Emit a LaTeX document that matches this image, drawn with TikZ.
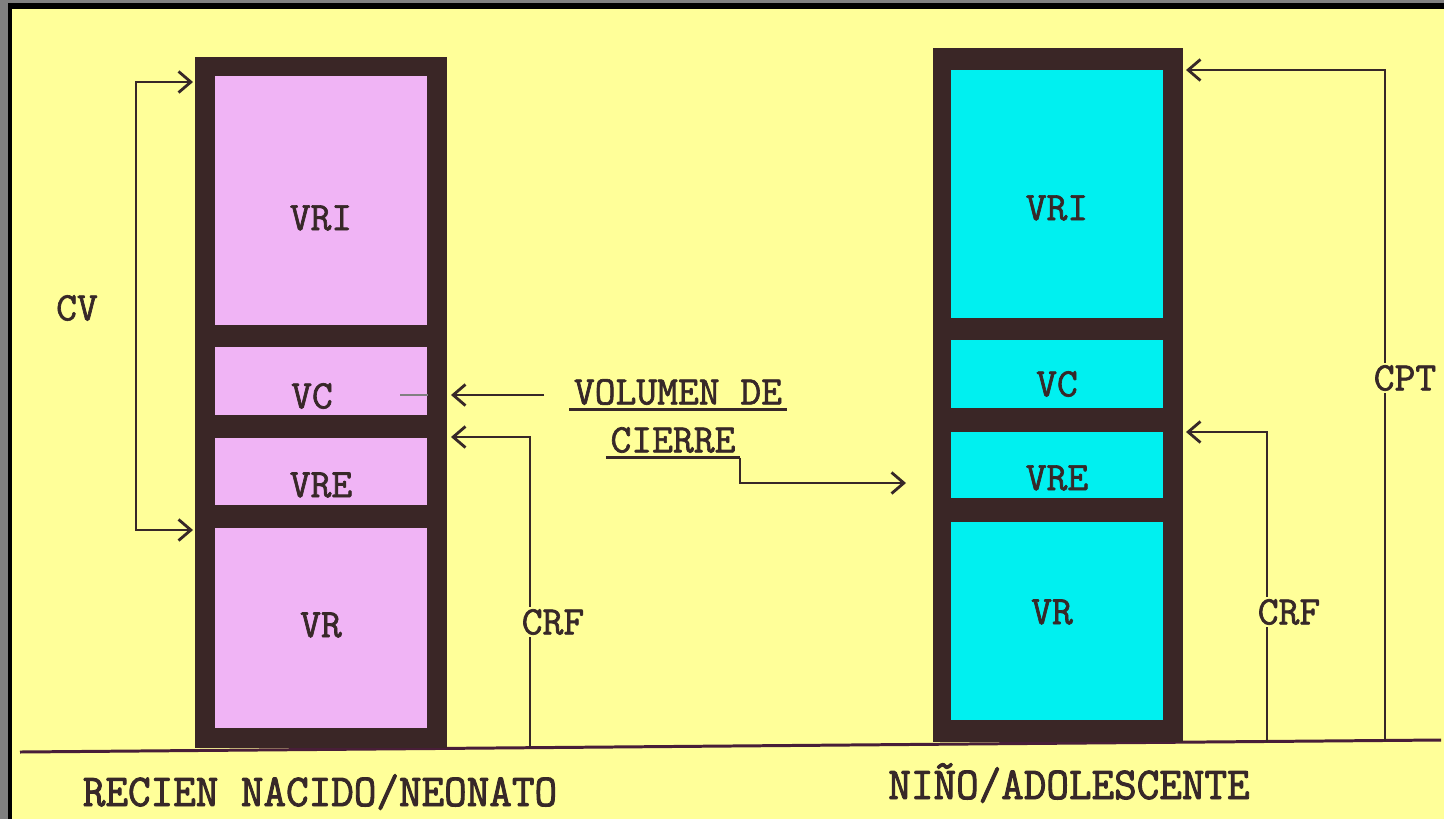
\documentclass[tikz,border=0pt]{standalone}
\usepackage{fontspec}
\newfontfamily\maquina{Latin Modern Mono}[FakeBold=1.6]
\newfontfamily\maquinaalta{Latin Modern Mono}[FakeBold=2,FakeStretch=0.96]
\usetikzlibrary{arrows.meta,positioning}
\definecolor{fondo}{RGB}{255,255,153}
\definecolor{marco}{RGB}{58,38,38}
\definecolor{rosa}{RGB}{240,180,245}
\definecolor{celeste}{RGB}{0,240,240}
\definecolor{gris}{RGB}{128,128,128}
\definecolor{tinta}{RGB}{55,40,40}

\begin{document}
\begin{tikzpicture}[x=0.02cm,y=-0.02cm,
    font=\maquina\fontsize{23}{27}\selectfont,text=tinta,
    marcobox/.style={fill=marco,inner sep=0pt},
    linea/.style={draw=tinta,line width=1.1pt},
    flecha/.style={linea,-{Straight Barb[length=7pt,width=12pt,line width=1.6pt]}},
    etiq/.style={fill=fondo,inner sep=1.5pt},
    rotulo/.style={anchor=base,inner sep=0pt,font=\maquinaalta\fontsize{26}{30}\selectfont}]
  \useasboundingbox (0,0) rectangle (1444,819);
  % fondo con borde gris y negro arriba/izquierda
  \fill[gris] (0,0) rectangle (1444,819);
  \fill[black] (8,3) rectangle (1444,819);
  \fill[fondo] (12,9) rectangle (1444,819);
  % linea del suelo (bajo los marcos)
  \coordinate (suelo1) at (20,752);
  \coordinate (suelo2) at (1441,740);
  \draw[draw=marco!80!violet,line width=1.7pt] (suelo1) -- (suelo2);
  % recien nacido
  \node[marcobox,minimum width=5.04cm,minimum height=13.82cm] (marcoI) at (321,402.5) {};
  \foreach \nm/\ya/\yb/\txt/\xt/\yt in {vri/76/325/VRI/321/218,vc/347/415/VC/312/396,
      vre/438/505/VRE/321/485,vr/528/728/VR/321/625}{
    \fill[rosa] (215,\ya) rectangle (427,\yb);
    \node (i\nm) at (\xt,\yt) {\txt};
  }
  % nino
  \node[marcobox,minimum width=5cm,minimum height=13.88cm] (marcoD) at (1058,395) {};
  \foreach \nm/\ya/\yb/\txt/\xt/\yt in {vri/70/318/VRI/1057/208,vc/340/408/VC/1057/384,
      vre/432/498/VRE/1057/478,vr/522/720/VR/1052/612}{
    \fill[celeste] (951,\ya) rectangle (1163,\yb);
    \node (d\nm) at (\xt,\yt) {\txt};
  }
  % CV
  \coordinate (cvA) at (193,82);
  \coordinate (cvB) at (193,530);
  \coordinate (cvx) at (136,0);
  \draw[linea,{Straight Barb[length=7pt,width=12pt,line width=1.6pt]}-{Straight Barb[length=7pt,width=12pt,line width=1.6pt]}]
    (cvA) -- (cvA -| cvx) -- (cvB -| cvx) -- (cvB);
  \node (cv) at (77,308) {CV};
  % volumen de cierre
  \node[inner sep=2.5pt] (vol) at (678,392) {VOLUMEN DE};
  \node[inner sep=2.5pt] (cie) at (673,440) {CIERRE};
  \draw[linea,line width=1.8pt] (vol.south west) -- (vol.south east);
  \draw[linea,line width=1.8pt] (cie.south west) -- (cie.south east);
  \coordinate (vcpunta) at (451,395);
  \coordinate (vrepunta) at (906,483);
  \draw[gris,line width=1pt] (400,395) -- (428,395);
  \draw[flecha,shorten <=0.5cm] (vol.west |- vcpunta) -- (vcpunta);
  \draw[flecha] (cie.south east) |- (vrepunta);
  % CRF izquierda
  \coordinate (crfIpunta) at (451,437);
  \coordinate (crfIsuelo) at (530,748);
  \draw[flecha] (crfIsuelo) |- (crfIpunta);
  \node[etiq] (crfI) at (553,622) {CRF};
  % CPT y CRF derecha
  \coordinate (cptpunta) at (1186,70);
  \coordinate (cptsuelo) at (1385,740.5);
  \coordinate (crfDpunta) at (1186,432);
  \coordinate (crfDsuelo) at (1267,741.5);
  \draw[flecha] (cptsuelo) |- (cptpunta);
  \draw[flecha] (crfDsuelo) |- (crfDpunta);
  \node[etiq] (cpt) at (1405,378) {CPT};
  \node[etiq] (crfD) at (1289,612) {CRF};
  % rotulos
  \node[rotulo] (rn) at (320,806) {RECIEN NACIDO/NEONATO};
  \node[rotulo] (na) at (1069,799) {NIÑO/ADOLESCENTE};
\end{tikzpicture}
\end{document}
